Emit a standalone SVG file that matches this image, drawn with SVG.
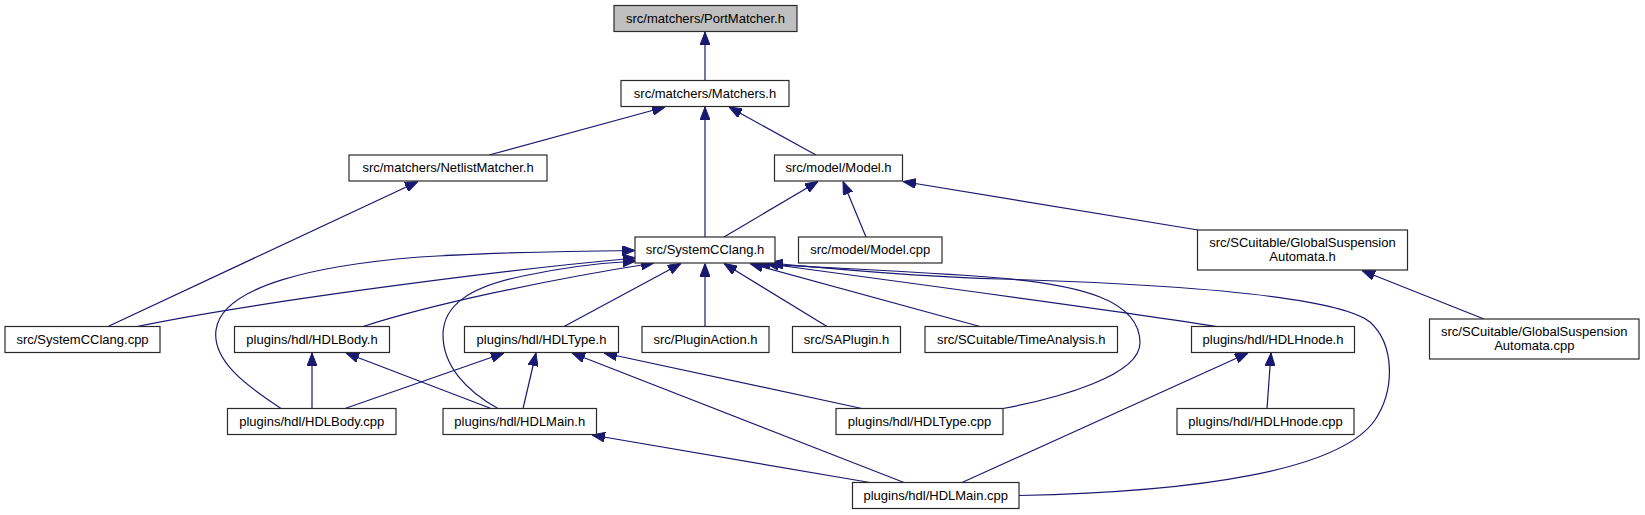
<svg xmlns="http://www.w3.org/2000/svg" width="1645" height="515" viewBox="0 0 1645 515">
<defs>
<marker id="arr" viewBox="0 0 13 10" refX="13" refY="5" markerWidth="13" markerHeight="10" markerUnits="userSpaceOnUse" orient="auto">
<path d="M0,0 L13,5 L0,10 z" fill="#191970" stroke="#191970" stroke-width="1"/>
</marker>
</defs>
<style>
.e{fill:none;stroke:#191970;stroke-width:1.2;marker-end:url(#arr)}
.n rect{fill:#ffffff;stroke:#2a2a2a;stroke-width:1.2}
.n.root rect{fill:#bfbfbf}
.n text{font-family:"Liberation Sans",Arial,sans-serif;font-size:13px;fill:#000;text-anchor:middle}
</style>
<rect width="1645" height="515" fill="#ffffff"/>
<g id="connectors">
<path class="e" d="M705,80.5 L705,32"/>
<path class="e" d="M489,155 L665,107"/>
<path class="e" d="M816,155 L729,107"/>
<path class="e" d="M705,237 L705,107"/>
<path class="e" d="M108,326.5 L418,181.5"/>
<path class="e" d="M724,237 L818,181.5"/>
<path class="e" d="M866,237 L843,181.5"/>
<path class="e" d="M1198,230 L903,181.5"/>
<path class="e" d="M1484,319 L1362,270.5"/>
<path class="e" d="M137,326.5 C240,305 480,272 636,258"/>
<path class="e" d="M281,408.5 C245,385 212,360 216,330 C222,285 320,265 420,257 C500,252 580,251 635,250.5"/>
<path class="e" d="M363,326.5 C430,305 540,281 654,263"/>
<path class="e" d="M498,408.5 C465,390 443,365 443,335 C443,305 470,287 523,276 C560,268 600,263 636,261"/>
<path class="e" d="M564,326.5 L681,263.5"/>
<path class="e" d="M705,326.5 L705,263.5"/>
<path class="e" d="M827,326.5 L724,263.5"/>
<path class="e" d="M980,326.5 L750,263.5"/>
<path class="e" d="M1217,326.5 C1100,308 900,282 766,263.5"/>
<path class="e" d="M1003,408.5 C1060,398 1140,375 1140,343 C1140,300 1080,285 1000,278 C900,270 820,268 757,263.5"/>
<path class="e" d="M1019,495.5 C1200,492 1340,470 1375,420 C1395,390 1395,345 1370,322 C1330,290 1100,282 1000,279 C900,276 830,268 770,263"/>
<path class="e" d="M312,408.5 L312,353"/>
<path class="e" d="M491,408.5 L346,353"/>
<path class="e" d="M345,408.5 L504,353"/>
<path class="e" d="M523,408.5 L536,353"/>
<path class="e" d="M862,408.5 L604,353"/>
<path class="e" d="M904,482.5 L572,353"/>
<path class="e" d="M870,482.5 L592,435"/>
<path class="e" d="M962,482.5 L1248,353"/>
<path class="e" d="M1267,408.5 L1271,353"/>
</g>
<g id="n_portmatcher" class="n root"><rect x="614" y="5.5" width="183" height="26"/><text x="705.5" y="22.5">src/matchers/PortMatcher.h</text></g>
<g id="n_matchers" class="n"><rect x="621" y="80.5" width="168" height="26"/><text x="705" y="97.5">src/matchers/Matchers.h</text></g>
<g id="n_netlist" class="n"><rect x="349" y="155" width="198" height="26"/><text x="448" y="172">src/matchers/NetlistMatcher.h</text></g>
<g id="n_model_h" class="n"><rect x="774.5" y="155" width="128" height="26"/><text x="838.5" y="172">src/model/Model.h</text></g>
<g id="n_scc_h" class="n"><rect x="635" y="237" width="140" height="26"/><text x="705" y="254">src/SystemCClang.h</text></g>
<g id="n_model_cpp" class="n"><rect x="798.5" y="237" width="143.5" height="26"/><text x="870.25" y="254">src/model/Model.cpp</text></g>
<g id="n_gs_h" class="n"><rect x="1197.5" y="230" width="210" height="40"/><text x="1302.5" y="246.5">src/SCuitable/GlobalSuspension</text><text x="1302.5" y="260.5">Automata.h</text></g>
<g id="n_scc_cpp" class="n"><rect x="5" y="326.5" width="155" height="26"/><text x="82.5" y="343.5">src/SystemCClang.cpp</text></g>
<g id="n_hdlbody_h" class="n"><rect x="234.5" y="326.5" width="155" height="26"/><text x="312" y="343.5">plugins/hdl/HDLBody.h</text></g>
<g id="n_hdltype_h" class="n"><rect x="464.5" y="326.5" width="154" height="26"/><text x="541.5" y="343.5">plugins/hdl/HDLType.h</text></g>
<g id="n_pluginaction" class="n"><rect x="642" y="326.5" width="127" height="26"/><text x="705.5" y="343.5">src/PluginAction.h</text></g>
<g id="n_saplugin" class="n"><rect x="792.5" y="326.5" width="108" height="26"/><text x="846.5" y="343.5">src/SAPlugin.h</text></g>
<g id="n_timeanalysis" class="n"><rect x="925" y="326.5" width="192.5" height="26"/><text x="1021.25" y="343.5">src/SCuitable/TimeAnalysis.h</text></g>
<g id="n_hdlhnode_h" class="n"><rect x="1191.5" y="326.5" width="163" height="26"/><text x="1273" y="343.5">plugins/hdl/HDLHnode.h</text></g>
<g id="n_gs_cpp" class="n"><rect x="1429.5" y="319" width="209.5" height="40"/><text x="1534.25" y="335.5">src/SCuitable/GlobalSuspension</text><text x="1534.25" y="349.5">Automata.cpp</text></g>
<g id="n_hdlbody_cpp" class="n"><rect x="227.5" y="408.5" width="168.5" height="26"/><text x="311.75" y="425.5">plugins/hdl/HDLBody.cpp</text></g>
<g id="n_hdlmain_h" class="n"><rect x="443" y="408.5" width="153.5" height="26"/><text x="519.75" y="425.5">plugins/hdl/HDLMain.h</text></g>
<g id="n_hdltype_cpp" class="n"><rect x="836" y="408.5" width="167" height="26"/><text x="919.5" y="425.5">plugins/hdl/HDLType.cpp</text></g>
<g id="n_hdlhnode_cpp" class="n"><rect x="1177" y="408.5" width="177" height="26"/><text x="1265.5" y="425.5">plugins/hdl/HDLHnode.cpp</text></g>
<g id="n_hdlmain_cpp" class="n"><rect x="852.5" y="482.5" width="166.5" height="26"/><text x="935.75" y="499.5">plugins/hdl/HDLMain.cpp</text></g>
</svg>
